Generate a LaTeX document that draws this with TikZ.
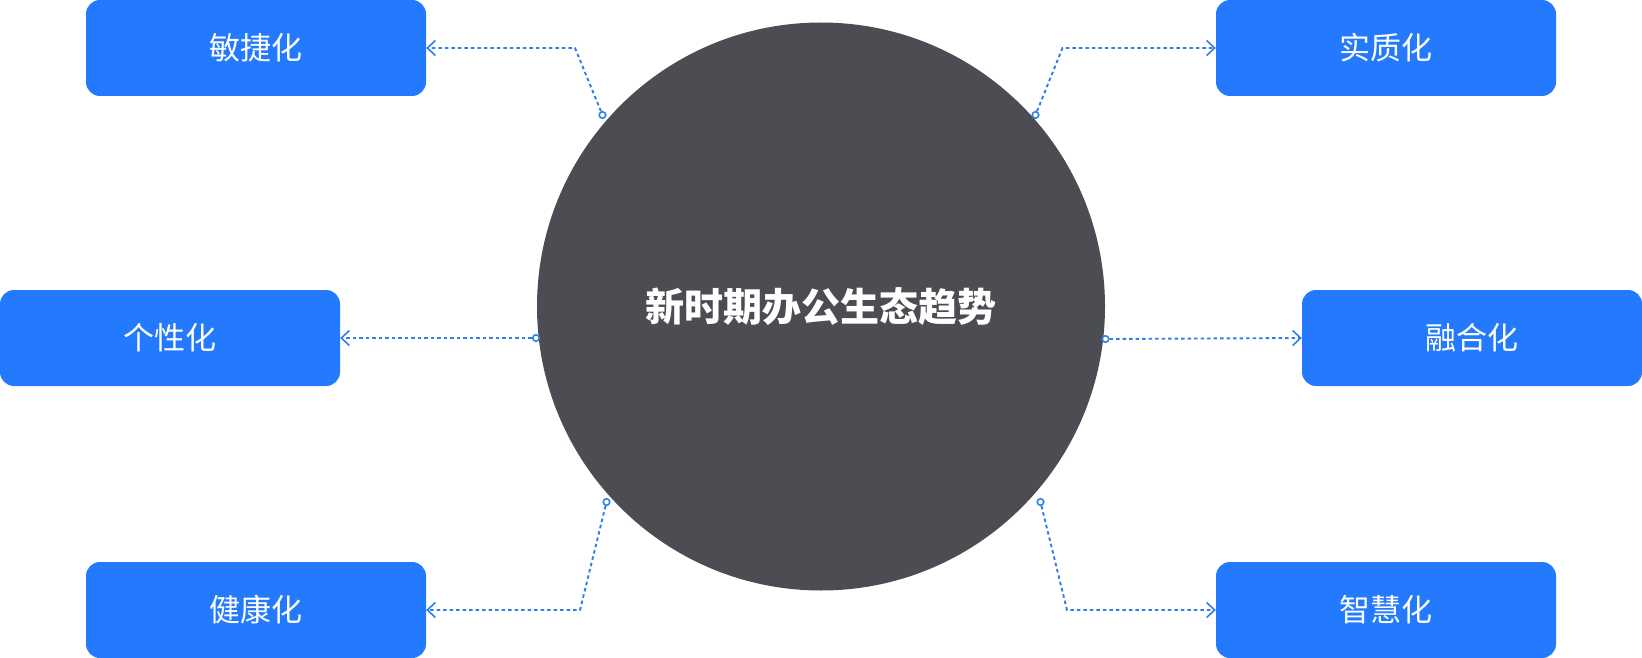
\documentclass[tikz,border=0pt]{standalone}
\usepackage{fontspec}
\newfontfamily\cjk{Noto Sans CJK SC}
\usetikzlibrary{arrows.meta}

\definecolor{boxblue}{HTML}{247AFE}
\definecolor{linkblue}{HTML}{2F7FE6}
\definecolor{hubgray}{HTML}{4C4D52}

\tikzset{
  trend/.style={rectangle, rounded corners=14pt, fill=boxblue, text=white,
    minimum width=340pt, minimum height=96pt, inner sep=0pt,
    font=\cjk\fontsize{31}{31}\selectfont},
  hub/.style={circle, fill=hubgray, text=white, minimum size=568pt, inner sep=0pt,
    font=\cjk\bfseries\fontsize{39}{39}\selectfont},
  dot/.style={circle, draw=linkblue, fill=white, line width=1.6pt,
    minimum size=6.5pt, inner sep=0pt},
  link/.style={draw=linkblue, line width=1.9pt, dash pattern=on 3.5pt off 3pt,
    -{Straight Barb[length=8pt,width=15pt,line width=1.6pt]}}
}

\begin{document}
\begin{tikzpicture}[x=1pt, y=-1pt]
  \useasboundingbox (0,0) rectangle (1642,658);

  % Central circle
  \node[hub] (hub) at (821,306.5) {新时期办公生态趋势};

  % Trend boxes
  \node[trend] (agile)  at (256,48)   {敏捷化};
  \node[trend] (real)   at (1386,48)  {实质化};
  \node[trend] (person) at (170,338)  {个性化};
  \node[trend] (fuse)   at (1472,338) {融合化};
  \node[trend] (health) at (256,610)  {健康化};
  \node[trend] (smart)  at (1386,610) {智慧化};

  % Small rings on the circle
  \node[dot] (dagile)  at (602.5,115) {};
  \node[dot] (dreal)   at (1035.5,115) {};
  \node[dot] (dperson) at (536,338) {};
  \node[dot] (dfuse)   at (1105.5,339) {};
  \node[dot] (dhealth) at (606.5,502) {};
  \node[dot] (dsmart)  at (1040.5,502) {};

  % Bend points
  \coordinate (kagile)  at (575,48);
  \coordinate (kreal)   at (1062.5,48);
  \coordinate (khealth) at (580,610);
  \coordinate (ksmart)  at (1067,610);

  % Dashed links
  \draw[link] (dagile) -- (kagile) -- (agile.east);
  \draw[link] (dreal) -- (kreal) -- (real.west);
  \draw[link] (dperson) -- (person.east);
  \draw[link] (dfuse) -- (fuse.west);
  \draw[link] (dhealth) -- (khealth) -- (health.east);
  \draw[link] (dsmart) -- (ksmart) -- (smart.west);

\end{tikzpicture}
\end{document}
